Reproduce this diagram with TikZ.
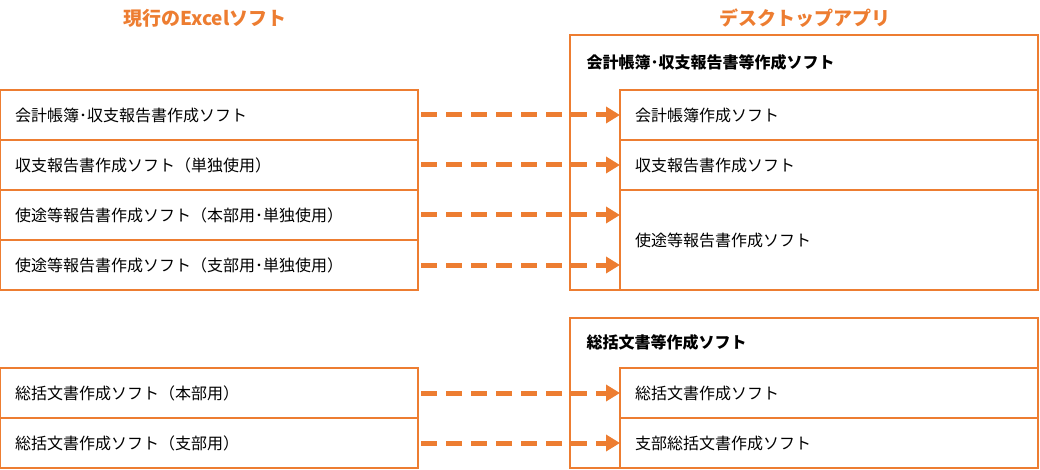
\documentclass[tikz,border=0pt]{standalone}
\usepackage{fontspec}
\setmainfont{Noto Sans CJK JP}
\usetikzlibrary{arrows.meta}
\definecolor{org}{HTML}{ED7D31}
\begin{document}
\begin{tikzpicture}[x=1pt,y=-1pt,
  box/.style={draw=org,line width=1.2pt,minimum height=50pt,inner sep=0pt,outer sep=0pt,font=\fontsize{16}{19}\selectfont,anchor=north west,text depth=0pt},
  lbox/.style={box,minimum width=418pt,text width=388pt,align=left},
  rbox/.style={box,minimum width=418pt,text width=388pt,align=left},
  title/.style={text=org,font=\fontsize{19}{22}\selectfont\bfseries},
  arr/.style={draw=org,line width=5pt,dash pattern=on 16pt off 9pt,-{Triangle[length=14pt,width=16pt]}}]
\useasboundingbox (0,0) rectangle (1040,470);
\node[title] (t1) at (205,18) {現行のExcelソフト};
\node[title] (t2) at (805,18) {デスクトップアプリ};
% left
\node[lbox] (l1) at (0,90) {会計帳簿･収支報告書作成ソフト};
\node[lbox] (l2) at (0,140) {収支報告書作成ソフト（単独使用）};
\node[lbox] (l3) at (0,190) {使途等報告書作成ソフト（本部用･単独使用）};
\node[lbox] (l4) at (0,240) {使途等報告書作成ソフト（支部用･単独使用）};
\node[lbox] (l5) at (0,368) {総括文書作成ソフト（本部用）};
\node[lbox] (l6) at (0,418) {総括文書作成ソフト（支部用）};
% right outer
\node[draw=org,line width=1.2pt,minimum width=468pt,minimum height=255pt,anchor=north west,outer sep=0pt] (o1) at (570,35) {};
\node[font=\fontsize{16}{19}\selectfont\bfseries,anchor=west] (h1) at (583,62) {会計帳簿･収支報告書等作成ソフト};
\node[rbox] (r1) at (620,90) {会計帳簿作成ソフト};
\node[rbox] (r2) at (620,140) {収支報告書作成ソフト};
\node[rbox,minimum height=100pt] (r3) at (620,190) {使途等報告書作成ソフト};
\node[draw=org,line width=1.2pt,minimum width=468pt,minimum height=150pt,anchor=north west,outer sep=0pt] (o2) at (570,318) {};
\node[font=\fontsize{16}{19}\selectfont\bfseries,anchor=west] (h2) at (583,342) {総括文書等作成ソフト};
\node[rbox] (r5) at (620,368) {総括文書作成ソフト};
\node[rbox] (r6) at (620,418) {支部総括文書作成ソフト};
% arrows
\foreach \a/\b in {l1/r1,l2/r2,l5/r5,l6/r6}
  \draw[arr] ([xshift=3pt]\a.east) -- (\b.west);
\draw[arr] ([xshift=3pt]l3.east) -- (r3.west |- l3.east);
\draw[arr] ([xshift=3pt]l4.east) -- (r3.west |- l4.east);
\end{tikzpicture}
\end{document}
